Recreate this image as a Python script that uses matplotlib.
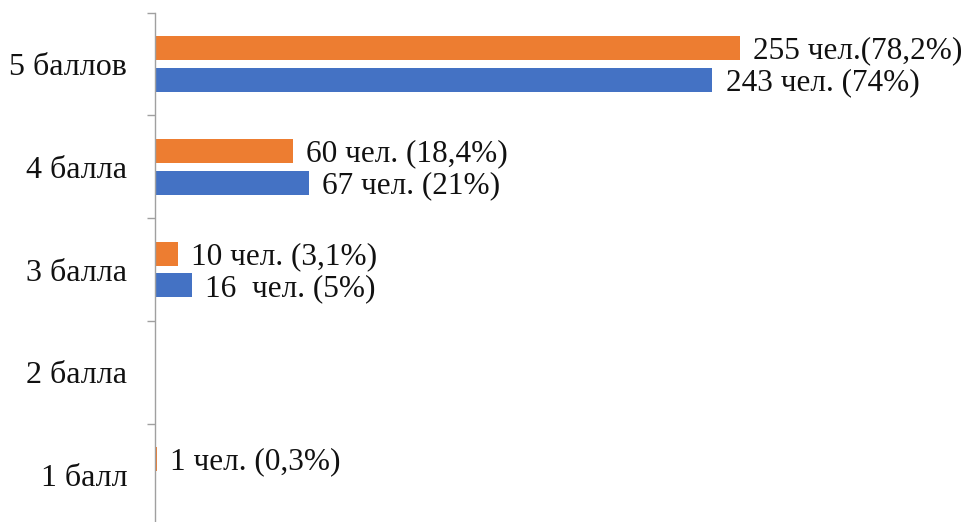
import matplotlib
matplotlib.use("Agg")
import matplotlib.pyplot as plt
import numpy as np

categories = ["1 балл", "2 балла", "3 балла", "4 балла", "5 баллов"]
orange_vals = [1, 0, 10, 60, 255]
blue_vals = [0, 0, 16, 67, 243]
orange_labels = ["1 чел. (0,3%)", "", "10 чел. (3,1%)", "60 чел. (18,4%)", "255 чел.(78,2%)"]
blue_labels = ["", "", "16  чел. (5%)", "67 чел. (21%)", "243 чел. (74%)"]

plt.rcParams['font.family'] = ['Liberation Serif', 'DejaVu Serif']

fig = plt.figure(figsize=(9.68, 5.22), dpi=100)
ax = fig.add_axes([155/968, -4.4/522, 1 - 155/968, 513.75/522])

y = np.arange(len(categories))
h = 0.234
off = 0.155
ax.barh(y + off, orange_vals, height=h, color="#ED7D31")
ax.barh(y - off, blue_vals, height=h, color="#4472C4")

for yi, v, lab in zip(y, orange_vals, orange_labels):
    if lab:
        ax.annotate(lab, (v, yi + off), xytext=(9.5, -2), textcoords="offset points",
                    va="center", ha="left", fontsize=22.5, color="#111111")
for yi, v, lab in zip(y, blue_vals, blue_labels):
    if lab:
        ax.annotate(lab, (v, yi - off), xytext=(9.5, -2), textcoords="offset points",
                    va="center", ha="left", fontsize=22.5, color="#111111")

ax.set_xlim(0, (968 - 155) / 2.294)
ax.set_ylim(-0.5, len(categories) - 0.5)

ax.set_yticks(np.arange(-0.5, len(categories), 1.0))
ax.set_yticklabels([])
ax.set_yticks(y, minor=True)
ax.set_yticklabels(categories, minor=True, fontsize=23, color="#111111")
ax.tick_params(axis="y", which="major", length=6, width=1, color="#a0a0a0", direction="out")
ax.tick_params(axis="y", which="minor", length=0, pad=20)
ax.set_xticks([])

for s in ["top", "right", "bottom"]:
    ax.spines[s].set_visible(False)
ax.spines["left"].set_color("#a0a0a0")
ax.spines["left"].set_linewidth(1)

fig.savefig("out.png", dpi=100)
